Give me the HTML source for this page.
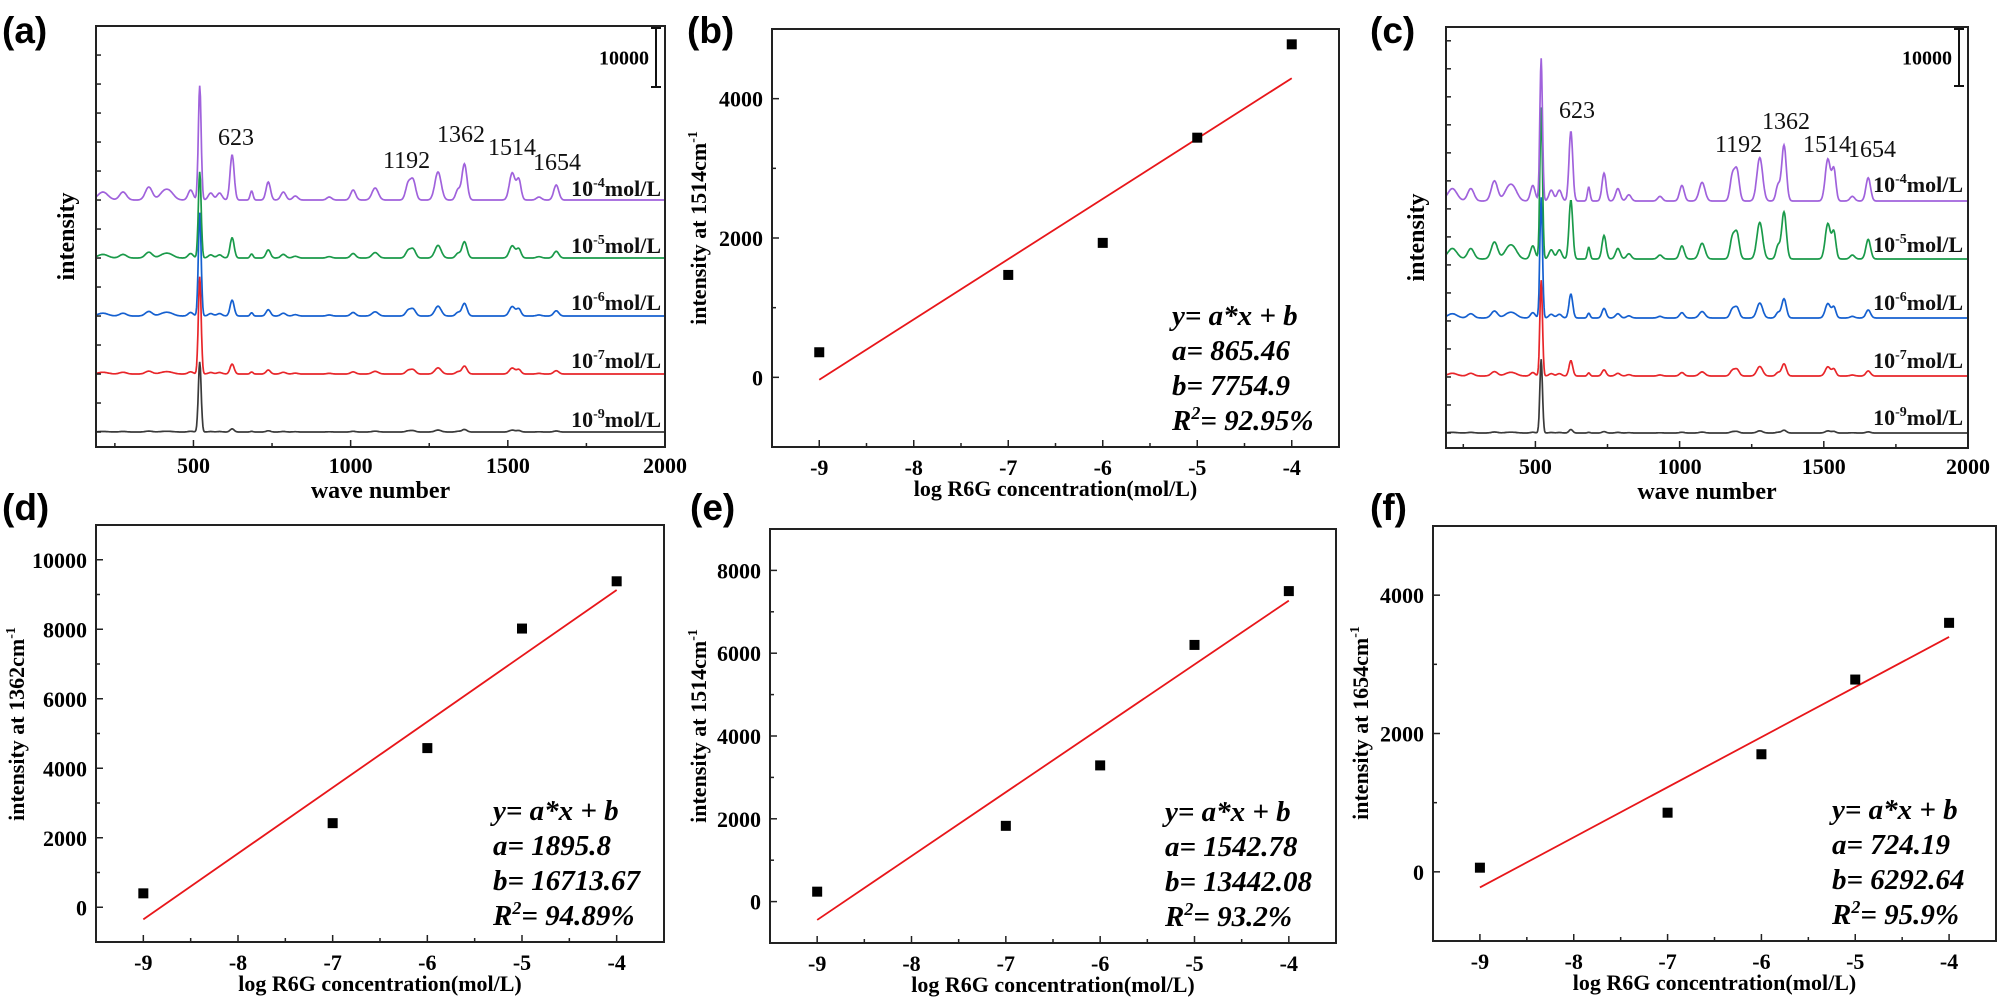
<!DOCTYPE html>
<html><head><meta charset="utf-8">
<style>
html,body{margin:0;padding:0;background:#fff;}
svg{display:block;}
text{font-family:"Liberation Serif",serif;}
.b{font-weight:bold;}
.lt{font-family:"Liberation Sans",sans-serif;font-weight:bold;font-size:37px;}
</style></head>
<body>
<svg id="fig" xmlns="http://www.w3.org/2000/svg" width="2001" height="1006" viewBox="0 0 2001 1006"></svg>
<script>
// ---------- spectra data ----------
const peakPos   = [212,276,358,405,425,491,555,583,623,685,738,786,824,932,1008,1078,1183,1199,1278,1341,1362,1514,1535,1599,1654];
const peakSigma = [16,11,11,14,14,8,8,8,6.5,4.5,7,8,8,8,8,10,8,8,10,7,8,9,7,8,8];
const peakAmp   = [1360,1360,2210,1190,1190,1700,1190,1190,7650,1530,3060,1360,680,510,1700,2040,2720,3230,4760,1700,6120,4590,3400,510,2550];
const concLabels = ["-9","-7","-6","-5","-4"];
const seriesColors = ["#3a3a3a","#e8262a","#1560d0","#1a9a4a","#a062dc"];
const aScale = [0.07,0.22,0.35,0.45,1.0];
const a520   = [11900,16490,17510,14620,19380];
const aOffset= [2540,12370,22200,32030,41860];
const cScale = [0.08,0.35,0.55,1.35,1.6];
const c520   = [12950,16800,21180,26600,25030];
const cOffset= [2630,12630,22810,33160,43330];
// ---------- scatter data ----------
const logConc = [-9,-7,-6,-5,-4];
const bVals = [360,1470,1930,3440,4780];
const dVals = [400,2420,4580,8020,9380];
const eVals = [240,1830,3290,6200,7500];
const fVals = [60,855,1700,2780,3600];
const fitA = {b:865.46, d:1895.8, e:1542.78, f:724.19};
const fitB = {b:7754.9, d:16713.67, e:13442.08, f:6292.64};
const xTicks = [-9,-8,-7,-6,-5,-4];

const NS="http://www.w3.org/2000/svg";
const svg=document.getElementById('fig');
function el(tag,attrs,parent){const e=document.createElementNS(NS,tag);for(const k in attrs)e.setAttribute(k,attrs[k]);(parent||svg).appendChild(e);return e;}
function txt(s,attrs,parent){const t=el('text',attrs,parent);t.textContent=s;return t;}
function concText(parent,x,y,exp){
  const t=el('text',{x:x,y:y,'text-anchor':'end','font-size':22,'class':'b',fill:'#111'},parent);
  
  
  const a=el('tspan',{},t);a.textContent='10';
  const s=el('tspan',{dy:-9,'font-size':14},t);s.textContent=exp;
  const m=el('tspan',{dy:9},t);m.textContent='mol/L';
}
function letter(s,x,y){const t=txt(s,{x:x,y:y,'class':'lt'});}

function spectraPanel(name,L,T,R,B,yMax,scale,p520,offs,peakLbls,concX,labelY){
  const g=el('g',{});
  
  
  const xs=v=>L+(v-190)/(2000-190)*(R-L);
  const ys=v=>B-v/yMax*(B-T);
  for(let s=0;s<5;s++){
    let d='';
    for(let w=192;w<=2000;w+=2){
      let v=offs[s];
      for(let k=0;k<peakPos.length;k++){const z=(w-peakPos[k])/peakSigma[k];if(Math.abs(z)<5)v+=scale[s]*peakAmp[k]*Math.exp(-0.5*z*z);}
      const z5=(w-520)/4.5;if(Math.abs(z5)<6)v+=p520[s]*Math.exp(-0.5*z5*z5);
      d+=(d?'L':'M')+xs(w).toFixed(1)+' '+ys(v).toFixed(1);
    }
    const p=el('path',{d:d,fill:'none',stroke:seriesColors[s],'stroke-width':1.7},g);
    
    
    concText(g,concX,labelY[s],concLabels[s]);
  }
  const fr=el('rect',{x:L,y:T,width:R-L,height:B-T,fill:'none',stroke:'#222','stroke-width':2},g);
  
  
  for(let v=250;v<=2000;v+=250){
    const x=xs(v),maj=v%500===0;
    el('line',{x1:x,x2:x,y1:B,y2:B-(maj?7:4),stroke:'#222','stroke-width':1.5},g);
    if(maj){const t=txt(String(v),{x:x,y:B+26,'text-anchor':'middle','font-size':22,'class':'b'},g);}
  }
  for(let v=offs[0];v<yMax;v+=4915){const y=ys(v);el('line',{x1:L,x2:L+5,y1:y,y2:y,stroke:'#222','stroke-width':1.5},g);}
  const xt=txt('wave number',{x:(L+R)/2,y:B+51,'text-anchor':'middle','font-size':24,'class':'b'},g);
  
  const yt=txt('intensity',{x:0,y:0,'text-anchor':'middle','font-size':24,'class':'b',transform:`translate(${L-22},${(T+B)/2}) rotate(-90)`},g);
  
  // scale bar
  const bx=R-9, by1=T+2, by2=T+2+10000/yMax*(B-T);
  el('line',{x1:bx,x2:bx,y1:by1,y2:by2,stroke:'#111','stroke-width':2},g);
  el('line',{x1:bx-5,x2:bx+5,y1:by1,y2:by1,stroke:'#111','stroke-width':2},g);
  el('line',{x1:bx-5,x2:bx+5,y1:by2,y2:by2,stroke:'#111','stroke-width':2},g);
  const sb=txt('10000',{x:bx-7,y:(by1+by2)/2+7,'text-anchor':'end','font-size':20,'class':'b'},g);
  
  peakLbls.forEach(p=>{const t=txt(p[0],{x:p[1],y:p[2],'font-size':24,fill:'#111'},g);});
}

function scatterPanel(name,L,T,R,B,yMin,yMax,vals,key,yStep,yTitle,eqX){
  const g=el('g',{});
  
  
  const xs=v=>L+(v+9.5)/6*(R-L);
  const ys=v=>B-(v-yMin)/(yMax-yMin)*(B-T);
  const fr=el('rect',{x:L,y:T,width:R-L,height:B-T,fill:'none',stroke:'#222','stroke-width':2},g);
  
  xTicks.forEach(v=>{
    const x=xs(v);
    el('line',{x1:x,x2:x,y1:B,y2:B-7,stroke:'#222','stroke-width':1.5},g);
    el('line',{x1:xs(v+0.5),x2:xs(v+0.5),y1:B,y2:B-4,stroke:'#222','stroke-width':1.5},g);
    const t=txt(String(v),{x:x,y:B+28,'text-anchor':'middle','font-size':22,'class':'b'},g);
    
  });
  for(let v=0;v<yMax;v+=yStep/2){
    const y=ys(v),maj=(v%yStep===0);
    el('line',{x1:L,x2:L+(maj?7:4),y1:y,y2:y,stroke:'#222','stroke-width':1.5},g);
    if(maj){const t=txt(String(v),{x:L-9,y:y+8,'text-anchor':'end','font-size':22,'class':'b'},g);}
  }
  const a=fitA[key],b=fitB[key];
  const ln=el('line',{x1:xs(-9),y1:ys(a*-9+b),x2:xs(-4),y2:ys(a*-4+b),stroke:'#e8161a','stroke-width':1.8},g);
  
  logConc.forEach((c,i)=>{
    const r=el('rect',{x:xs(c)-5,y:ys(vals[i])-5,width:10,height:10,fill:'#000'},g);
    
  });
  const xt=txt('log R6G concentration(mol/L)',{x:(L+R)/2,y:B+49,'text-anchor':'middle','font-size':22,'class':'b'},g);
  
  const yt=el('text',{x:0,y:0,'text-anchor':'middle','font-size':22,'class':'b',transform:`translate(${yTitle[0]},${yTitle[1]}) rotate(-90)`},g);
  
  const t1=el('tspan',{},yt);t1.textContent='intensity at '+yTitle[2]+'cm';
  const t2=el('tspan',{dy:-9,'font-size':14},yt);t2.textContent='-1';
  const eq=el('g',{'font-size':29,'font-weight':'bold','font-style':'italic'},g);
  
  const by=B-122;
  txt('y= a*x + b',{x:L+eqX,y:by},eq);
  txt('a= '+a,{x:L+eqX,y:by+35},eq);
  txt('b= '+b,{x:L+eqX,y:by+70},eq);
  const r2=el('text',{x:L+eqX,y:by+105},eq);
  const r1=el('tspan',{},r2);r1.textContent='R';
  const rs=el('tspan',{dy:-11,'font-size':18},r2);rs.textContent='2';
  const rr=el('tspan',{dy:11},r2);rr.textContent={b:'= 92.95%',d:'= 94.89%',e:'= 93.2%',f:'= 95.9%'}[key];
}

letter('(a)',2,43);letter('(b)',687,43);letter('(c)',1370,43);
letter('(d)',2,520);letter('(e)',690,520);letter('(f)',1370,520);

spectraPanel('panel-a-spectra',96,26,665,447,71360,aScale,a520,aOffset,
  [['623',218,145],['1192',383,168],['1362',437,142],['1514',488,155],['1654',533,170]],
  661,[427,368,310,253,196]);
spectraPanel('panel-c-spectra',1446,27,1968,448,73860,cScale,c520,cOffset,
  [['623',1559,118],['1192',1715,152],['1362',1762,129],['1514',1803,152],['1654',1848,157]],
  1963,[425,368,310,252,192]);

scatterPanel('panel-b-fit-1514',772,29,1339,447,-1000,5000,bVals,'b',2000,[706,228,'1514'],400);
scatterPanel('panel-d-fit-1362',96,525,664,942,-1000,11000,dVals,'d',2000,[24,724,'1362'],397);
scatterPanel('panel-e-fit-1514',770,529,1336,943,-1000,9000,eVals,'e',2000,[706,726,'1514'],395);
scatterPanel('panel-f-fit-1654',1433,526,1996,941,-1000,5000,fVals,'f',2000,[1368,723,'1654'],399);
</script>
</body></html>
